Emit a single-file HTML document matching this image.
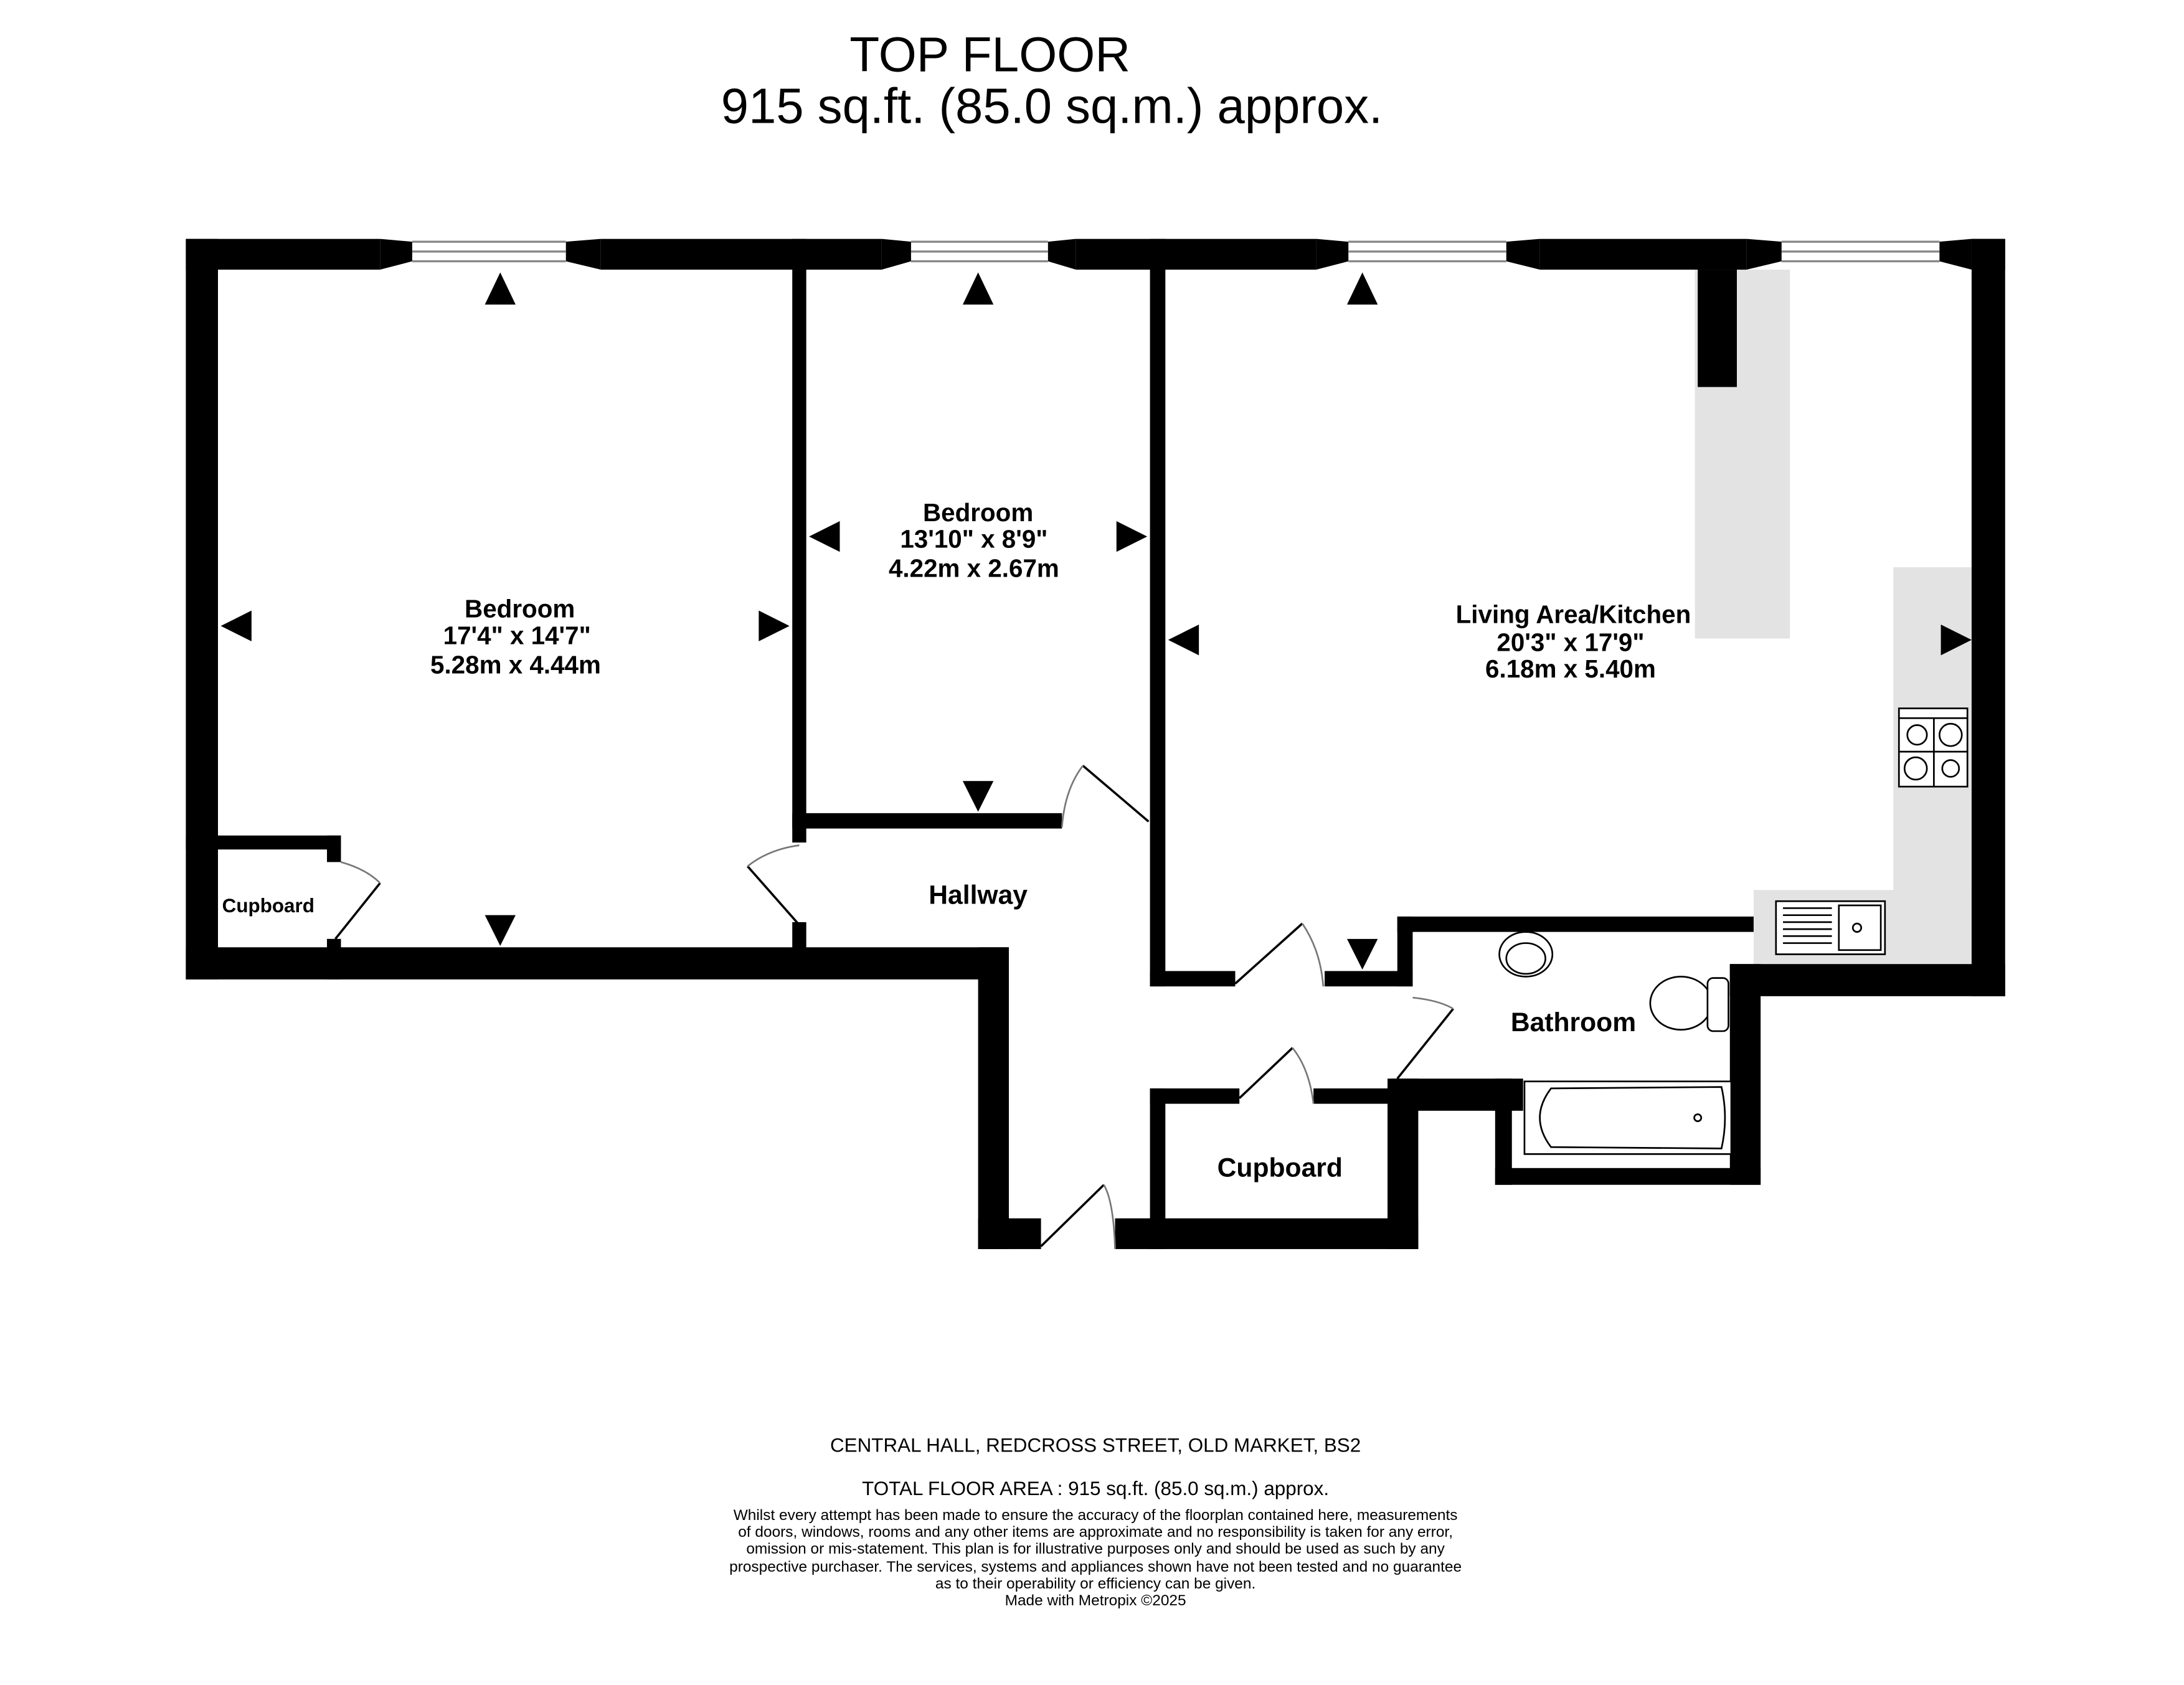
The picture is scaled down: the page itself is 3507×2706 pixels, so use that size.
<!DOCTYPE html>
<html><head><meta charset="utf-8"><style>
html,body{margin:0;padding:0;background:#fff}
svg{display:block}
text{font-family:"Liberation Sans",Arial,sans-serif}
</style></head><body>
<svg width="3507" height="2706" viewBox="0 0 1563 1206" preserveAspectRatio="none" xmlns="http://www.w3.org/2000/svg">
<rect width="1563" height="1206" fill="#fff"/>
<text x="608" y="51" font-size="35">TOP FLOOR</text>
<text x="516" y="88" font-size="35.5">915 sq.ft. (85.0 sq.m.) approx.</text>

<g fill="#e3e3e3">
<rect x="1213" y="193" width="68" height="264"/>
<rect x="1355" y="406" width="56" height="284"/>
<rect x="1255" y="637" width="156" height="53"/>
</g>

<g fill="#000">
<rect x="133" y="171" width="139" height="22"/>
<rect x="430" y="171" width="201" height="22"/>
<rect x="770" y="171" width="172" height="22"/>
<rect x="1102" y="171" width="148" height="22"/>
<rect x="1411" y="171" width="24" height="22"/>
<polygon points="272,171 295,173 295,187 272,193"/>
<polygon points="405,173 430,171 430,193 405,187"/>
<polygon points="631,171 652,173 652,187 631,193"/>
<polygon points="750,173 770,171 770,193 750,187"/>
<polygon points="942,171 965,173 965,187 942,193"/>
<polygon points="1078,173 1102,171 1102,193 1078,187"/>
<polygon points="1250,171 1275,173 1275,187 1250,193"/>
<polygon points="1388,173 1411,171 1411,193 1388,187"/>
<rect x="133" y="171" width="23" height="530"/>
<rect x="133" y="678" width="589" height="23"/>
<rect x="567" y="171" width="10" height="432"/>
<rect x="567" y="660" width="10" height="20"/>
<rect x="567" y="582" width="193" height="11"/>
<rect x="823" y="171" width="11" height="535"/>
<rect x="823" y="695" width="61" height="11"/>
<rect x="948" y="695" width="63" height="11"/>
<rect x="1000" y="656" width="255" height="11"/>
<rect x="1000" y="656" width="11" height="50"/>
<rect x="995" y="772" width="95" height="23"/>
<rect x="1070" y="772" width="12" height="76"/>
<rect x="1070" y="836" width="190" height="12"/>
<rect x="1238" y="690" width="22" height="158"/>
<rect x="1411" y="171" width="24" height="542"/>
<rect x="1238" y="690" width="197" height="23"/>
<rect x="1215" y="193" width="28" height="84"/>
<rect x="700" y="678" width="22" height="216"/>
<rect x="700" y="872" width="45" height="22"/>
<rect x="798" y="872" width="217" height="22"/>
<rect x="823" y="779" width="11" height="115"/>
<rect x="823" y="779" width="64" height="11"/>
<rect x="940" y="779" width="60" height="11"/>
<rect x="993" y="772" width="22" height="122"/>
<rect x="133" y="598" width="111" height="10"/>
<rect x="234" y="598" width="10" height="19"/>
<rect x="234" y="672" width="10" height="29"/>
</g>

<g stroke="#888" stroke-width="1.5">
<line x1="295" y1="173" x2="405" y2="173"/><line x1="295" y1="180" x2="405" y2="180"/><line x1="295" y1="187" x2="405" y2="187"/>
<line x1="652" y1="173" x2="750" y2="173"/><line x1="652" y1="180" x2="750" y2="180"/><line x1="652" y1="187" x2="750" y2="187"/>
<line x1="965" y1="173" x2="1078" y2="173"/><line x1="965" y1="180" x2="1078" y2="180"/><line x1="965" y1="187" x2="1078" y2="187"/>
<line x1="1275" y1="173" x2="1388" y2="173"/><line x1="1275" y1="180" x2="1388" y2="180"/><line x1="1275" y1="187" x2="1388" y2="187"/>
</g>

<g fill="none" stroke="#000" stroke-width="1.6">
<line x1="572" y1="662" x2="535" y2="620"/>
<line x1="822" y1="588" x2="775" y2="548"/>
<line x1="884" y1="704" x2="932" y2="661"/>
<line x1="1000" y1="772" x2="1040" y2="722"/>
<line x1="887" y1="786" x2="925" y2="750"/>
<line x1="745" y1="892" x2="790" y2="848"/>
<line x1="240" y1="672" x2="272" y2="632"/>
</g>
<g fill="none" stroke="#777" stroke-width="1.2">
<path d="M535,620 Q550,608 572,605"/>
<path d="M775,548 Q762,565 760,592"/>
<path d="M932,661 Q945,680 947,706"/>
<path d="M1011,714 Q1030,716 1040,722"/>
<path d="M925,750 Q937,765 940,790"/>
<path d="M790,848 Q797,860 798,894"/>
<path d="M244,617 Q262,622 272,632"/>
</g>

<g fill="#000">
<polygon points="358,195 347,218 369,218"/>
<polygon points="700,195 689,218 711,218"/>
<polygon points="975,195 964,218 986,218"/>
<polygon points="158,448 180,437 180,459"/>
<polygon points="565,448 543,437 543,459"/>
<polygon points="579,384 601,373 601,395"/>
<polygon points="821,384 799,373 799,395"/>
<polygon points="836,458 858,447 858,469"/>
<polygon points="1411,458 1389,447 1389,469"/>
<polygon points="347,655 369,655 358,677"/>
<polygon points="689,559 711,559 700,581"/>
<polygon points="964,672 986,672 975,694"/>
</g>

<g fill="#fff" stroke="#000" stroke-width="1.2">
<rect x="1359" y="507" width="49" height="56"/>
<line x1="1359" y1="514" x2="1408" y2="514" />
<circle cx="1372" cy="526" r="7"/><circle cx="1396" cy="526" r="8"/>
<circle cx="1371" cy="550" r="8"/><circle cx="1396" cy="550" r="6"/>
<line x1="1359" y1="538" x2="1408" y2="538"/><line x1="1384" y1="514" x2="1384" y2="563"/>
</g>
<g fill="#fff" stroke="#000" stroke-width="1.2">
<rect x="1271" y="645" width="78" height="38"/>
<rect x="1316" y="648" width="30" height="32"/>
<circle cx="1329" cy="664" r="3"/>
<line x1="1276" y1="650" x2="1311" y2="650"/><line x1="1276" y1="655" x2="1311" y2="655"/>
<line x1="1276" y1="660" x2="1311" y2="660"/><line x1="1276" y1="665" x2="1311" y2="665"/>
<line x1="1276" y1="670" x2="1311" y2="670"/><line x1="1276" y1="675" x2="1311" y2="675"/>
</g>
<g fill="#fff" stroke="#000" stroke-width="1.2">
<ellipse cx="1092" cy="683" rx="19" ry="16"/>
<ellipse cx="1092" cy="686" rx="14" ry="11"/>
</g>
<g fill="#fff" stroke="#000" stroke-width="1.2">
<ellipse cx="1203" cy="718" rx="22" ry="19"/>
<rect x="1222" y="700" width="15" height="38" rx="4"/>
</g>
<g fill="#fff" stroke="#000" stroke-width="1.2">
<rect x="1091" y="774" width="148" height="52"/>
<path d="M1110,779 L1232,778 Q1237,800 1232,822 L1110,821 Q1094,800 1110,779 Z"/>
<circle cx="1215" cy="800" r="2.5"/>
</g>

<g font-weight="bold" text-anchor="middle" fill="#000">
<text x="372" y="442" font-size="18">Bedroom</text>
<text x="370" y="461" font-size="18">17'4"  x 14'7"</text>
<text x="369" y="482" font-size="18">5.28m  x 4.44m</text>
<text x="700" y="373" font-size="18">Bedroom</text>
<text x="697" y="392" font-size="18">13'10"  x 8'9"</text>
<text x="697" y="413" font-size="18">4.22m  x 2.67m</text>
<text x="1126" y="446" font-size="18">Living Area/Kitchen</text>
<text x="1124" y="466" font-size="18">20'3"  x 17'9"</text>
<text x="1124" y="485" font-size="18">6.18m  x 5.40m</text>
<text x="700" y="647" font-size="19">Hallway</text>
<text x="1126" y="738" font-size="19">Bathroom</text>
<text x="916" y="842" font-size="19">Cupboard</text>
<text x="192" y="653" font-size="14">Cupboard</text>
</g>

<g text-anchor="middle" fill="#000">
<text x="784" y="1039" font-size="14">CENTRAL HALL, REDCROSS STREET, OLD MARKET, BS2</text>
<text x="784" y="1070" font-size="14">TOTAL FLOOR AREA : 915 sq.ft. (85.0 sq.m.) approx.</text>
<g font-size="10.9">
<text x="784" y="1088">Whilst every attempt has been made to ensure the accuracy of the floorplan contained here, measurements</text>
<text x="784" y="1100">of doors, windows, rooms and any other items are approximate and no responsibility is taken for any error,</text>
<text x="784" y="1112">omission or mis-statement. This plan is for illustrative purposes only and should be used as such by any</text>
<text x="784" y="1125">prospective purchaser. The services, systems and appliances shown have not been tested and no guarantee</text>
<text x="784" y="1137">as to their operability or efficiency can be given.</text>
<text x="784" y="1149">Made with Metropix ©2025</text>
</g>
</g>
</svg>
</body></html>
